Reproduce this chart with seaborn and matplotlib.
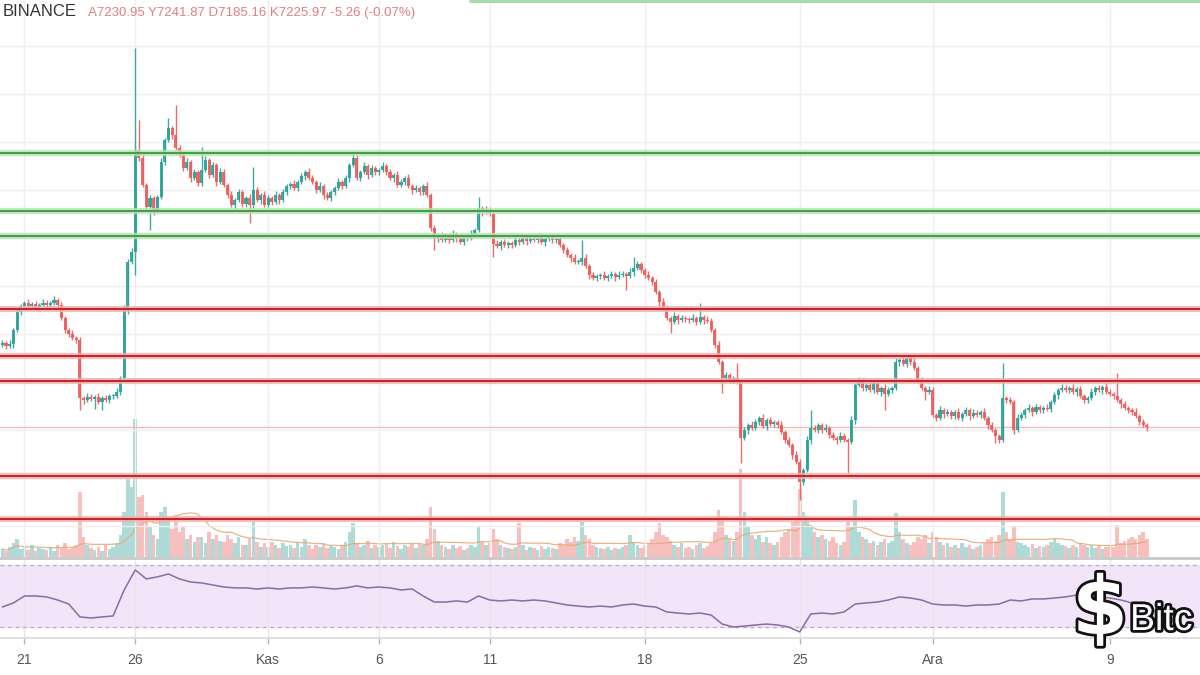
import numpy as np
import pandas as pd
import matplotlib
matplotlib.use("Agg")
import matplotlib.pyplot as plt
import matplotlib.patheffects as pe
import seaborn as sns

# ---------------- data (4h candles from 20 Oct 2019 00:00) ----------------
first_open = 7882
close = [
    7898, 7874, 7890, 8002, 8146, 8194,   # 20 Oct
    8218, 8194, 8210, 8186, 8202, 8218,   # 21
    8202, 8218, 8242, 8202, 8098, 8002,   # 22
    7970, 7938, 7922, 7458, 7442, 7466,   # 23
    7450, 7466, 7426, 7458, 7442, 7474,   # 24
    7474, 7506, 7618, 8162, 8546, 8626,   # 25
    9442, 9378, 9162, 8986, 9058, 8962,   # 26
    9066, 9346, 9522, 9618, 9562, 9458,   # 27
    9402, 9298, 9346, 9218, 9266, 9178,   # 28
    9282, 9362, 9242, 9322, 9186, 9266,   # 29
    9162, 9082, 9002, 9042, 9106, 9010,   # 30
    9058, 9002, 9122, 9042, 9082, 9002,   # 31
    9058, 9026, 9082, 9042, 9106, 9154,   # 1 Nov
    9170, 9138, 9186, 9234, 9266, 9218,   # 2
    9186, 9122, 9154, 9082, 9058, 9106,   # 3
    9138, 9186, 9154, 9218, 9322, 9378,   # 4
    9218, 9266, 9314, 9242, 9298, 9266,   # 5
    9282, 9314, 9266, 9218, 9242, 9162,   # 6
    9186, 9218, 9154, 9122, 9138, 9106,   # 7
    9154, 9082, 8818, 8738, 8754, 8722,   # 8
    8754, 8722, 8770, 8738, 8706, 8754,   # 9
    8738, 8770, 8802, 8978, 8946, 8962,   # 10
    8930, 8690, 8674, 8706, 8682, 8698,   # 11
    8682, 8722, 8706, 8738, 8714, 8730,   # 12
    8722, 8738, 8706, 8730, 8746, 8722,   # 13
    8730, 8682, 8642, 8602, 8578, 8546,   # 14
    8546, 8578, 8514, 8442, 8418, 8434,   # 15
    8442, 8418, 8434, 8450, 8426, 8442,   # 16
    8450, 8434, 8466, 8498, 8530, 8482,   # 17
    8442, 8418, 8386, 8306, 8226, 8178,   # 18
    8098, 8066, 8114, 8082, 8098, 8090,   # 19
    8082, 8098, 8066, 8106, 8082, 8074,   # 20
    8002, 7882, 7746, 7618, 7642, 7602,   # 21
    7618, 7586, 7138, 7202, 7242, 7218,   # 22
    7266, 7298, 7234, 7282, 7250, 7266,   # 23
    7242, 7186, 7122, 7082, 7002, 6946,   # 24
    6786, 6882, 7122, 7218, 7202, 7242,   # 25
    7202, 7218, 7162, 7138, 7122, 7154,   # 26
    7122, 7106, 7282, 7562, 7602, 7538,   # 27
    7562, 7522, 7578, 7506, 7538, 7490,   # 28
    7522, 7538, 7746, 7762, 7730, 7778,   # 29
    7746, 7698, 7602, 7538, 7506, 7522,   # 30
    7322, 7298, 7362, 7330, 7346, 7314,   # 1 Dec
    7346, 7298, 7330, 7362, 7314, 7338,   # 2
    7322, 7346, 7298, 7242, 7202, 7154,   # 3
    7122, 7458, 7442, 7426, 7202, 7298,   # 4
    7322, 7362, 7378, 7346, 7386, 7362,   # 5
    7378, 7370, 7426, 7482, 7522, 7538,   # 6
    7522, 7538, 7506, 7530, 7474, 7442,   # 7
    7458, 7506, 7538, 7522, 7546, 7506,   # 8
    7490, 7474, 7442, 7410, 7378, 7362,   # 9
    7346, 7314, 7266, 7242, 7226,         # 10
]
wick_hi = [
    24, 16, 32, 16, 24, 16,  16, 32, 16, 24, 16, 32,  24, 16, 32, 16, 24, 16,
    16, 32, 16, 24, 16, 32,  24, 16, 32, 16, 24, 16,  16, 32, 16, 40, 24, 32,
    816, 240, 32, 16, 24, 16,  16, 32, 16, 80, 16, 240,  24, 16, 32, 16, 24, 16,
    184, 32, 16, 24, 16, 32,  24, 16, 32, 16, 24, 16,  16, 32, 184, 24, 16, 32,
    24, 16, 32, 16, 24, 16,  16, 32, 16, 24, 16, 32,  24, 16, 32, 16, 24, 16,
    16, 32, 16, 24, 16, 48,  24, 16, 32, 16, 24, 16,  16, 32, 16, 24, 16, 32,
    24, 16, 32, 16, 24, 16,  16, 32, 16, 24, 16, 32,  24, 16, 32, 16, 24, 16,
    16, 32, 16, 88, 16, 32,  24, 16, 32, 16, 24, 16,  16, 32, 16, 24, 16, 32,
    24, 16, 32, 16, 24, 16,  16, 32, 16, 24, 16, 32,  24, 144, 32, 16, 24, 16,
    16, 32, 16, 24, 16, 32,  24, 16, 32, 88, 24, 16,  16, 32, 16, 24, 16, 32,
    24, 16, 32, 16, 24, 16,  16, 32, 16, 112, 16, 32,  24, 16, 32, 16, 24, 16,
    16, 120, 16, 24, 16, 32,  24, 16, 32, 16, 24, 16,  16, 32, 16, 24, 16, 32,
    24, 16, 32, 144, 24, 16,  16, 32, 16, 24, 16, 32,  24, 16, 32, 16, 24, 16,
    16, 32, 16, 24, 16, 32,  24, 16, 32, 16, 24, 16,  16, 32, 16, 24, 16, 32,
    24, 16, 32, 16, 24, 16,  16, 32, 16, 24, 16, 32,  24, 16, 32, 16, 24, 16,
    16, 280, 16, 24, 16, 32,  24, 16, 32, 16, 24, 16,  16, 32, 16, 24, 16, 32,
    24, 16, 32, 16, 24, 16,  16, 32, 16, 24, 16, 32,  24, 16, 184, 16, 24, 16,
    16, 32, 16, 24, 16,
]
wick_lo = [
    16, 24, 16, 32, 16, 24,  24, 16, 24, 16, 32, 16,  16, 24, 16, 32, 16, 24,
    24, 16, 24, 96, 32, 16,  16, 80, 16, 64, 16, 24,  24, 16, 24, 16, 32, 16,
    184, 24, 16, 32, 184, 40,  24, 16, 24, 16, 32, 16,  16, 24, 16, 32, 16, 24,
    24, 16, 24, 16, 32, 16,  16, 24, 16, 32, 16, 24,  24, 144, 24, 16, 32, 16,
    16, 24, 16, 32, 16, 24,  24, 16, 24, 16, 32, 16,  16, 24, 16, 32, 16, 24,
    24, 16, 24, 16, 32, 16,  16, 24, 16, 32, 16, 24,  24, 16, 24, 16, 32, 16,
    16, 24, 16, 32, 16, 24,  24, 16, 24, 96, 32, 16,  16, 24, 16, 32, 16, 24,
    24, 16, 24, 16, 32, 16,  16, 104, 16, 32, 16, 24,  24, 16, 24, 16, 32, 16,
    16, 24, 16, 32, 16, 24,  24, 16, 24, 16, 32, 16,  16, 24, 16, 32, 16, 24,
    24, 16, 24, 16, 32, 16,  16, 112, 16, 32, 16, 24,  24, 16, 24, 16, 32, 16,
    16, 88, 16, 32, 16, 24,  24, 16, 24, 16, 32, 16,  16, 24, 16, 120, 16, 24,
    24, 16, 200, 16, 32, 16,  16, 24, 16, 32, 16, 24,  24, 16, 24, 16, 32, 16,
    144, 24, 16, 32, 16, 24,  24, 16, 24, 16, 32, 16,  16, 248, 16, 32, 16, 24,
    24, 16, 24, 16, 32, 128,  16, 24, 16, 32, 16, 24,  24, 16, 24, 16, 64, 16,
    16, 24, 16, 32, 16, 24,  24, 16, 24, 16, 32, 16,  16, 24, 16, 32, 16, 56,
    24, 16, 24, 16, 32, 16,  16, 24, 16, 32, 16, 24,  24, 16, 24, 16, 32, 16,
    16, 24, 16, 32, 16, 24,  24, 16, 24, 16, 32, 16,  16, 24, 16, 32, 16, 24,
    24, 16, 24, 16, 32,
]
volume = [
    8, 6, 10, 14, 18, 8,   10, 7, 12, 6, 9, 8,   7, 10, 6, 12, 9, 14,
    8, 10, 12, 65, 20, 12,   9, 7, 10, 6, 12, 8,   10, 14, 22, 45, 78, 70,
    138, 60, 62, 45, 30, 22,   18, 45, 50, 38, 28, 35,   25, 30, 18, 22, 15, 20,
    20, 14, 25, 18, 22, 16,   15, 22, 18, 14, 20, 12,   12, 18, 35, 15, 10, 14,
    10, 15, 12, 9, 14, 11,   12, 9, 15, 10, 18, 12,   8, 12, 10, 14, 9, 11,
    10, 8, 12, 15, 25, 34,   14, 10, 12, 16, 9, 12,   10, 12, 14, 9, 15, 11,
    8, 12, 10, 13, 9, 14,   12, 18, 50, 28, 16, 12,   10, 8, 12, 9, 11, 7,
    9, 12, 10, 30, 15, 12,   14, 28, 18, 12, 10, 9,   8, 10, 34, 12, 7, 10,
    9, 7, 11, 8, 10, 9,   8, 14, 12, 18, 15, 20,   16, 35, 22, 18, 12, 10,
    9, 8, 10, 7, 9, 8,   10, 12, 22, 15, 12, 9,   12, 14, 18, 25, 34, 22,
    20, 16, 12, 10, 14, 9,   10, 8, 12, 14, 9, 11,   14, 25, 47, 40, 22, 18,
    16, 25, 88, 45, 30, 22,   18, 22, 15, 20, 14, 12,   15, 20, 25, 28, 35, 40,
    68, 45, 40, 30, 25, 20,   22, 18, 16, 20, 14, 12,   15, 35, 30, 57, 25, 20,
    18, 14, 16, 12, 15, 18,   14, 16, 44, 25, 18, 14,   12, 15, 20, 18, 22, 14,
    25, 20, 15, 12, 14, 10,   12, 9, 14, 10, 12, 8,   10, 12, 14, 18, 20, 16,
    22, 65, 25, 18, 30, 15,   14, 12, 10, 13, 9, 11,   10, 12, 15, 18, 14, 12,
    11, 9, 12, 10, 14, 12,   10, 12, 9, 11, 8, 10,   12, 10, 32, 14, 16, 18,
    20, 18, 22, 25, 18,
]
# RSI sampled every 12 hours from 20 Oct 00:00
rsi = [
    42.9, 45.5, 50.0, 50.0, 49.4, 47.4, 44.8, 36.5, 35.8, 36.5, 37.1, 53.9,
    66.8, 61.0, 62.3, 64.2, 61.0, 59.0, 58.4, 57.1, 55.8, 55.2, 55.2, 54.5,
    55.2, 54.5, 55.2, 55.2, 55.8, 55.2, 54.5, 55.2, 56.5, 55.2, 55.8, 55.2,
    53.9, 54.5, 50.0, 46.1, 46.1, 46.8, 46.1, 50.0, 47.4, 46.8, 47.4, 46.8,
    47.4, 46.8, 45.5, 44.2, 43.5, 42.9, 43.5, 42.9, 44.2, 44.8, 43.5, 42.9,
    39.7, 39.0, 38.4, 39.0, 37.7, 31.9, 30.0, 30.6, 31.3, 31.9, 31.3, 30.0,
    26.8, 38.4, 39.0, 38.4, 39.7, 44.8, 45.5, 46.1, 47.4, 49.4, 48.7, 47.4,
    44.8, 44.2, 44.2, 43.5, 44.2, 44.2, 44.8, 47.4, 46.8, 48.1, 48.1, 48.7,
    49.4, 50.6, 48.7, 49.4, 48.7, 47.4, 45.5, 44.8,
]
green_levels = [9418, 8954, 8754]
red_levels = [8170, 7794, 7594, 6834, 6490]
tick_days = [1, 6, 12, 17, 22, 29, 36, 42, 50]   # days after 20 Oct
tick_labels = ["21", "26", "Kas", "6", "11", "18", "25", "Ara", "9"]
source_label = "BINANCE"
ohlc_label = "A7230.95 Y7241.87 D7185.16 K7225.97 -5.26 (-0.07%)"
logo_symbol = "$"
logo_text = "Bitc"

# ---------------- figure ----------------
sns.set_theme(style="white")
plt.rcParams['font.family'] = ['Liberation Sans', 'DejaVu Sans']

W, H = 1200, 675
fig = plt.figure(figsize=(12, 6.75), dpi=100)
fig.patch.set_facecolor("white")


def rect(top, bottom):
    return [0, 1 - bottom / H, 1, (bottom - top) / H]


XLIM = (-0.106, 54.07)
close = np.array(close, dtype=float)
n = len(close)
x = np.arange(n) / 6.0
opens = np.concatenate([[first_open], close[:-1]])
highs = np.maximum(opens, close) + np.array(wick_hi)
lows = np.minimum(opens, close) - np.array(wick_lo)
up = close >= opens
UP, DN = "#2aa198", "#ec5b57"
cols = np.where(up, UP, DN)
vol = np.array(volume, dtype=float)

# volume pane (bottom layer)
axv = fig.add_axes(rect(0, 557))
axv.set_xlim(XLIM)
axv.set_ylim(0, 557)
axv.bar(x[up], vol[up], width=0.16, color=UP, alpha=0.38, lw=0)
axv.bar(x[~up], vol[~up], width=0.16, color=DN, alpha=0.38, lw=0)
vol_ma = pd.Series(vol).rolling(20, min_periods=1).mean().to_numpy()
sns.lineplot(x=x, y=vol_ma, ax=axv, color="#e3a877", lw=0.9, alpha=0.85)
axv.axis("off")

# price pane
ax = fig.add_axes(rect(0, 557))
ax.patch.set_alpha(0)
ax.set_xlim(XLIM)
ax.set_ylim(6186, 10642)
ax.set_yticks(np.arange(6434, 10400, 384))
ax.set_xticks(tick_days)
ax.tick_params(left=False, bottom=False, labelleft=False, labelbottom=False)
ax.grid(True, color="#efefef", lw=1)
ax.set_axisbelow(True)
for s in ax.spines.values():
    s.set_visible(False)

ax.axhline(close[-1], color="#f2bcbc", lw=1.0, zorder=1.5)
ax.vlines(x, lows, highs, colors=cols, lw=1.0, alpha=0.9, zorder=2)
hb = close - opens
hb = np.where(np.abs(hb) < 8, np.where(hb < 0, -8, 8), hb)
ax.bar(x, hb, bottom=opens, width=0.14, color=cols, lw=0, alpha=0.9,
       zorder=2.5)

for p in green_levels:
    ax.axhline(p, color="#b9e3ba", lw=4.5, alpha=0.8, zorder=3)
    ax.axhline(p, color="#43a047", lw=1.5, zorder=3.1)
for p in red_levels:
    ax.axhline(p, color="#f3b0b0", lw=4.5, alpha=0.8, zorder=3)
    ax.axhline(p, color="#c0282a", lw=1.5, zorder=3.1)
ax.axhline(10636, xmin=470 / 1200, color="#a5d6a7", lw=2, zorder=3)

# RSI pane
axr = fig.add_axes(rect(558, 638))
axr.set_xlim(XLIM)
axr.set_ylim(22.9, 74.5)
axr.axhspan(30, 70, color="#f2e5f9", zorder=0)
axr.axhline(70, color="#bba8c8", lw=0.9, ls=(0, (3, 3)), zorder=1)
axr.axhline(30, color="#bba8c8", lw=0.9, ls=(0, (3, 3)), zorder=1)
rsi_x = np.arange(len(rsi)) / 2.0
sns.lineplot(x=rsi_x, y=rsi, ax=axr, color="#8b6aa5", lw=1.1)
axr.set_xticks(tick_days)
axr.set_xticklabels(tick_labels)
axr.set_yticks([])
axr.set_xlabel("")
axr.set_ylabel("")
axr.grid(True, axis="x", color="#e9e3ee", lw=1)
axr.tick_params(axis="x", length=4, width=1, color="#b5b5b5", labelsize=10,
                labelcolor="#555555", pad=7, bottom=True)
axr.spines["left"].set_visible(False)
axr.spines["right"].set_visible(False)
axr.spines["top"].set_color("#c9c9c9")
axr.spines["top"].set_linewidth(2)
axr.spines["bottom"].set_color("#d9d9d9")
axr.spines["bottom"].set_linewidth(1.2)

# header
fig.text(3 / W, 1 - 12 / H, source_label, fontsize=12, color="#333333",
         va="center", ha="left")
fig.text(88 / W, 1 - 13 / H, ohlc_label, fontsize=9.5, color="#e07e80",
         va="center", ha="left")

# watermark logo
stroke = [pe.withStroke(linewidth=4, foreground="#111111")]
fig.text(1072 / W, 1 - 612 / H, logo_symbol, fontsize=58, fontweight="bold",
         color="white", va="center", ha="left", path_effects=stroke,
         family=["DejaVu Sans"])
fig.text(1130 / W, 1 - 620 / H, logo_text, fontsize=27, color="white",
         va="center", ha="left", path_effects=stroke,
         family=["Liberation Sans", "DejaVu Sans"])

fig.savefig("out.png", dpi=100, facecolor="white")
